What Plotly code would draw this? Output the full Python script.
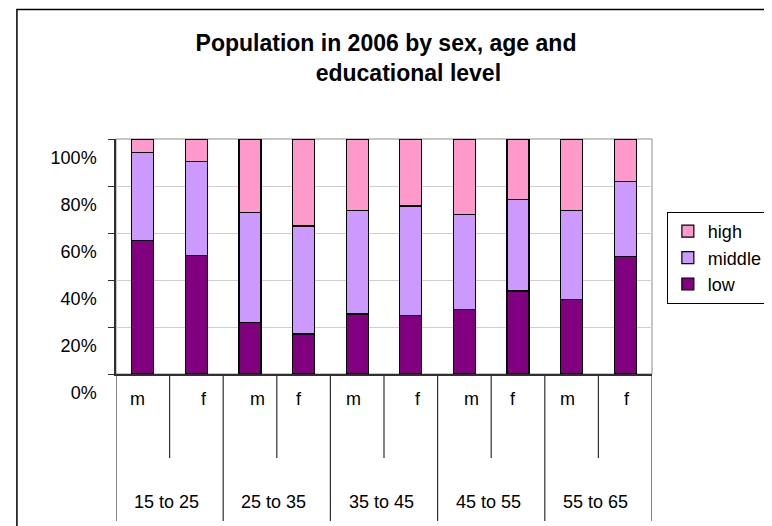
import plotly.graph_objects as go

# ---- data (shares in %) ----
age_groups = ["15 to 25", "25 to 35", "35 to 45", "45 to 55", "55 to 65"]
sexes = ["m", "f"]
low = [56.8, 50.3, 21.8, 17.0, 25.5, 24.8, 27.3, 35.3, 31.6, 49.9]
middle = [37.3, 40.1, 46.8, 46.0, 44.2, 46.7, 40.7, 38.8, 38.1, 32.0]
high = [5.9, 9.6, 31.4, 37.0, 30.3, 28.5, 32.0, 25.9, 30.3, 18.1]
y_ticks = [0, 20, 40, 60, 80, 100]
y_tick_text = ["0%", "20%", "40%", "60%", "80%", "100%"]
title_line1 = "Population in 2006 by sex, age and"
title_line2 = "educational level"

categories = [f"{a} {s}" for a in age_groups for s in sexes]
sex_labels = [s for a in age_groups for s in sexes]

# styling: small horizontal offsets of the m/f labels as in the original
sex_label_shift = [-5, 8, 7, -5, -4, 7, 7, -5, -4, 2]

FONT = "Arial, Liberation Sans, sans-serif"
W, H = 772, 526
ML, MR, MT, MB = 108, 123, 131, 160
PW, PH = W - ML - MR, H - MT - MB

fig = go.Figure()
for name, vals, col in [("low", low, "#800080"),
                        ("middle", middle, "#CC99FF"),
                        ("high", high, "#FF99CC")]:
    fig.add_trace(go.Bar(x=categories, y=vals, name=name, width=0.41,
                         marker=dict(color=col, line=dict(color="#000000", width=1.2))))

shapes = []
# plot-area frame (grey)
shapes.append(dict(type="rect", xref="paper", yref="paper", x0=0, x1=1, y0=0, y1=1,
                   line=dict(color="#8c8c8c", width=1), layer="below"))
# category divider lines below the axis
n = len(categories)
for i in range(n + 1):
    long_line = (i % 2 == 0)
    depth = (513 - 366) if long_line else (450 - 366)
    shapes.append(dict(type="line", xref="x", yref="paper", x0=i - 0.5, x1=i - 0.5,
                       y0=0, y1=-depth / PH, line=dict(color="#303030", width=1.2)))
# outer chart frame
shapes.append(dict(type="rect", xref="paper", yref="paper",
                   x0=(8 - ML) / PW, x1=(W + 20 - ML) / PW,
                   y0=(MB + 20) / -PH, y1=(H - MB - 1.5) / PH,
                   line=dict(color="#000000", width=1.5), layer="below"))

annotations = []
for c, s, sh in zip(categories, sex_labels, sex_label_shift):
    annotations.append(dict(x=c, xref="x", y=0, yref="paper", text=s, showarrow=False,
                            yanchor="middle", yshift=-25, xshift=sh,
                            font=dict(family=FONT, size=18, color="#000000")))
for gi, g in enumerate(age_groups):
    annotations.append(dict(x=2 * gi + 0.5, xref="x", y=0, yref="paper", text=g,
                            showarrow=False, yanchor="middle", yshift=-128, xshift=-3,
                            font=dict(family=FONT, size=18, color="#000000")))

title_text = title_line1 + "<br>" + "\u00a0" * 7 + title_line2

fig.update_layout(
    width=W, height=H,
    margin=dict(l=ML, r=MR, t=MT, b=MB, pad=0),
    paper_bgcolor="#ffffff", plot_bgcolor="#ffffff",
    barmode="stack", bargap=0.59,
    title=dict(text=title_text, x=378 / W, xanchor="center", xref="container",
               y=0.918, yanchor="top", yref="container",
               font=dict(family=FONT, size=23, color="#000000", weight="bold")),
    legend=dict(x=(664 - ML) / PW, xanchor="left", y=(366 - 204) / PH, yanchor="top",
                traceorder="reversed", bordercolor="#000000", borderwidth=1,
                bgcolor="#ffffff", font=dict(family=FONT, size=18, color="#000000"),
                itemwidth=30),
    xaxis=dict(type="category", range=[-0.5, n - 0.5], showticklabels=False,
               showgrid=False, showline=True, linecolor="#303030", linewidth=1.5,
               ticks="", zeroline=False, fixedrange=True),
    yaxis=dict(range=[0, 100], tickvals=y_ticks, ticktext=y_tick_text,
               showgrid=True, gridcolor="#cfcfcf", gridwidth=1,
               showline=True, linecolor="#303030", linewidth=1.5,
               ticks="outside", ticklen=6, tickcolor="#303030", tickwidth=1.2,
               ticklabelshift=19, ticklabelstandoff=8,
               tickfont=dict(family=FONT, size=18, color="#000000"),
               zeroline=False, fixedrange=True),
    shapes=shapes, annotations=annotations,
    showlegend=True,
)

fig.write_html("out.html")
